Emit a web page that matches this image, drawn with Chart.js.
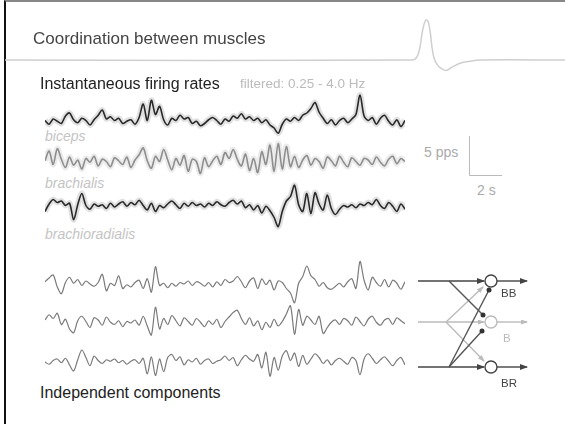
<!DOCTYPE html>
<html>
<head>
<meta charset="utf-8">
<script src="https://cdn.jsdelivr.net/npm/chart.js@4"></script>
<style>
  body { margin: 0; width: 565px; height: 424px; position: relative; overflow: hidden; background: #fff;
         font-family: "Liberation Sans", Arial, sans-serif; }
  .frame { position: absolute; left: 4px; top: 0; width: 600px; height: 440px;
           border-left: 2px solid #111; border-top: 2px solid #888; }
  canvas { position: absolute; }
  .t { position: absolute; white-space: nowrap; line-height: 1; }
  .lbl { font-style: italic; font-size: 14px; color: #c4c4c4; }
</style>
</head>
<body>
<div class="frame"></div>

<canvas id="spike" width="560" height="70" style="left:5px;top:10px"></canvas>

<div class="t" style="left:33px;top:30px;font-size:17px;color:#444">Coordination between muscles</div>
<div class="t" style="left:40px;top:76px;font-size:16px;color:#222">Instantaneous firing rates</div>
<div class="t" style="left:240px;top:77px;font-size:13.5px;color:#bbb">filtered: 0.25 - 4.0 Hz</div>
<div class="t lbl" style="left:45px;top:129px">biceps</div>
<div class="t lbl" style="left:45px;top:176px">brachialis</div>
<div class="t lbl" style="left:45px;top:227px">brachioradialis</div>
<div class="t" style="left:40px;top:385px;font-size:16px;color:#222">Independent components</div>

<div class="t" style="left:424px;top:145px;font-size:14px;color:#aaa">5 pps</div>
<div class="t" style="left:477px;top:183px;font-size:14px;color:#aaa">2 s</div>

<canvas id="bic" width="370" height="60" style="left:40px;top:92px"></canvas>
<canvas id="bra" width="370" height="60" style="left:40px;top:133px"></canvas>
<canvas id="brd" width="370" height="60" style="left:40px;top:177px"></canvas>
<canvas id="ic1" width="370" height="60" style="left:40px;top:254px"></canvas>
<canvas id="ic2" width="370" height="60" style="left:40px;top:293px"></canvas>
<canvas id="ic3" width="370" height="60" style="left:40px;top:332px"></canvas>

<svg width="565" height="424" style="position:absolute;left:0;top:0">
  <defs>
    <marker id="ad" markerWidth="8" markerHeight="6" refX="7" refY="3" orient="auto" markerUnits="userSpaceOnUse">
      <path d="M0,0 L8,3 L0,6 z" fill="#444"/></marker>
    <marker id="al" markerWidth="7" markerHeight="5" refX="6" refY="2.5" orient="auto" markerUnits="userSpaceOnUse">
      <path d="M0,0 L7,2.5 L0,5 z" fill="#bbb"/></marker>
  </defs>
  <!-- scale bar -->
  <path d="M469.5,136 L469.5,175.5 L502,175.5" fill="none" stroke="#bbb" stroke-width="1"/>
  <!-- network -->
  <g fill="none" stroke-width="1.4">
    <path d="M418,322 L484,322" stroke="#bbb" marker-end="url(#al)"/>
    <path d="M497,322 L527,322" stroke="#bbb" marker-end="url(#al)"/>
    <path d="M446,322 L483,287" stroke="#bbb" marker-end="url(#al)"/>
    <path d="M446,322 L484,361" stroke="#bbb" marker-end="url(#al)"/>
    <circle cx="491" cy="322" r="6" stroke="#bbb" fill="#fff"/>
    <path d="M418,281 L484,281" stroke="#444" marker-end="url(#ad)"/>
    <path d="M497,281 L527,281" stroke="#444" marker-end="url(#ad)"/>
    <path d="M418,367 L484,367" stroke="#444" marker-end="url(#ad)"/>
    <path d="M497,367 L527,367" stroke="#444" marker-end="url(#ad)"/>
    <path d="M449,281 L483,315" stroke="#555"/>
    <path d="M449,367 L489,290" stroke="#555"/>
    <path d="M449,367 L482,331" stroke="#555"/>
    <circle cx="491" cy="281" r="6" stroke="#444" fill="#fff"/>
    <circle cx="491" cy="367" r="6" stroke="#444" fill="#fff"/>
  </g>
  <g fill="#333">
    <circle cx="483" cy="315" r="2.5"/>
    <circle cx="489" cy="290" r="2.5"/>
    <circle cx="482" cy="331" r="2.5"/>
  </g>
</svg>
<div class="t" style="left:501px;top:288px;font-size:11.5px;color:#444">BB</div>
<div class="t" style="left:503px;top:333px;font-size:11.5px;color:#bbb">B</div>
<div class="t" style="left:501px;top:378px;font-size:11.5px;color:#444">BR</div>

<script>
// sample step of all traces, seconds (22 s shown)
var dt = 0.25;

// filtered instantaneous firing rates, pps around the mean
var biceps = [0.2,-0.3,0.4,0.1,-0.2,0.8,1.2,0.3,-0.1,0.5,
  0.2,-0.4,0.3,0.9,1.6,0.4,0.7,0.2,0.5,-0.2,
  0.1,0.3,-0.3,0.6,2.4,0.2,2.9,1.0,2.1,0.3,
  -0.4,0.5,0.2,0.9,0.4,0.6,-0.2,0.1,-0.5,-0.2,
  0.3,0.6,0.2,-0.3,0.4,0.1,0.8,0.5,1.1,0.4,
  0.7,0.2,0.5,-0.1,0.3,-0.4,-0.8,-1.5,-0.3,0.4,
  0.1,0.6,0.2,0.9,1.2,1.8,2.6,1.3,0.5,-0.2,
  0.3,-0.4,0.2,0.5,-0.1,0.4,1.0,3.6,0.8,0.2,
  0.6,-0.3,0.5,0.9,0.1,-0.4,0.3,-0.6,0.2];
var brachialis = [0.3,1.6,-0.2,1.9,0.5,-0.6,0.8,-0.3,0.4,-0.8,
  0.6,0.1,0.9,-0.4,0.5,0.2,-0.5,0.7,0.3,-0.2,
  0.8,-0.6,0.4,1.1,2.0,0.3,-0.7,0.9,0.2,1.8,
  0.4,-0.9,0.6,-0.3,1.0,-1.1,0.5,0.2,-1.4,0.7,
  -0.5,0.3,0.9,-0.2,1.4,0.6,1.8,0.5,-0.4,1.2,
  -1.0,0.6,-1.3,1.5,-0.2,2.4,-1.1,2.6,-0.8,2.2,
  -0.5,0.9,-0.6,0.4,1.0,-0.3,0.6,0.2,-0.7,0.8,
  0.3,-0.4,0.9,0.1,-0.5,0.7,0.2,-0.3,0.6,0.4,
  -0.2,0.8,0.1,-0.4,0.5,0.9,-0.1,0.6,0.2];
var brachioradialis = [-0.6,0.4,1.0,0.6,0.8,0.2,0.5,-1.7,0.3,1.8,
  0.2,-0.3,0.4,0.1,0.3,-0.2,0.5,0.0,0.4,0.7,
  0.1,0.6,0.3,0.9,0.2,-0.4,0.5,-0.6,0.2,-0.1,
  0.4,0.8,0.3,-0.2,0.5,0.1,0.6,0.2,0.4,0.0,
  0.5,0.2,0.7,0.3,0.1,0.6,0.9,0.4,0.8,-0.1,
  0.3,-0.4,0.2,-0.8,0.1,-0.5,-1.4,-2.6,-0.6,0.8,
  1.4,2.9,0.3,-0.6,1.8,-0.9,1.9,0.4,-0.4,1.6,
  -0.2,-1.0,-0.3,0.2,0.0,0.3,-0.1,0.4,0.2,0.6,
  0.3,1.0,0.2,-0.2,0.6,0.1,-0.6,0.4,-0.3];

// independent components (same units)
var comp1 = [0.3,0.8,1.2,-0.4,-1.3,0.2,0.9,0.1,0.6,-0.2,
  0.4,0.0,-0.3,0.2,1.3,-0.9,0.1,-0.2,1.1,-0.6,
  -0.1,-0.4,0.2,0.5,-0.6,0.7,-1.1,2.3,-0.2,0.1,
  -0.5,0.1,-0.3,0.2,0.0,0.4,-0.2,0.3,0.1,-0.3,
  0.2,-0.4,0.3,-0.2,0.6,0.2,0.4,1.0,0.3,-0.5,
  0.4,0.8,-0.6,0.7,-0.1,0.5,-0.8,0.4,0.2,-0.6,
  -1.2,-2.5,0.1,1.0,2.4,1.1,0.6,-0.3,0.2,-0.5,
  -0.7,-0.3,0.1,-0.4,0.3,0.7,-0.6,3.0,0.5,-0.8,
  0.9,0.2,-0.3,0.6,-0.4,0.5,0.1,-0.7,0.3];
var comp2 = [0.4,1.1,0.6,1.3,-0.2,0.5,-0.8,-1.3,0.3,0.9,
  0.2,-0.6,0.7,0.4,-0.3,0.8,0.1,-0.2,0.3,-0.5,
  0.2,0.0,0.4,-0.3,0.9,-0.4,-1.6,2.1,-0.8,0.6,
  -0.2,1.0,0.3,-0.4,0.7,0.2,-0.3,0.6,0.1,-0.5,
  0.3,-0.2,0.5,-0.6,0.2,0.8,1.4,1.7,0.6,-0.2,
  0.7,-0.4,0.3,-0.9,0.1,-0.6,0.5,-0.4,0.2,1.2,
  2.3,-1.5,1.8,-0.3,0.9,0.4,-0.2,0.9,-1.4,-0.6,
  0.1,0.4,-0.2,0.6,0.3,-0.3,0.8,0.2,-0.4,0.5,
  0.9,0.1,-0.3,0.4,0.6,-0.2,0.7,0.3,-0.1];
var comp3 = [0.0,-0.3,0.2,0.4,-0.1,0.5,-0.4,-1.2,0.3,1.6,
  0.6,-0.5,0.8,0.2,-0.2,0.3,0.1,0.4,-0.1,0.2,
  -0.3,0.1,0.3,-0.2,0.5,-1.6,0.7,-1.8,0.4,-1.3,
  0.6,1.0,0.2,0.7,-0.4,0.3,0.0,0.5,-0.3,0.2,
  0.4,-0.2,0.1,0.3,0.8,0.2,0.6,-0.5,0.3,0.9,
  0.4,0.1,1.0,-0.8,1.3,-1.9,0.6,-1.1,0.8,1.5,
  0.2,1.2,-0.6,0.9,-0.3,0.4,1.1,0.6,-0.2,0.3,
  -0.4,0.2,0.5,0.1,-0.3,0.6,0.2,-1.7,0.4,1.1,
  0.5,-0.2,0.3,0.7,0.1,-0.5,0.2,0.6,-0.4];

// action potential in the header, ms / normalized amplitude
var spikeT = [0,40.7,41.2,41.5,41.7,41.9,42.1,42.3,42.5,42.7,42.9,43.2,43.6,44.1,44.7,45.5,46.5,47.5,56];
var spikeV = [0,0,0.08,0.32,0.66,0.89,1.0,0.97,0.74,0.32,0.05,-0.11,-0.21,-0.26,-0.18,-0.08,-0.03,0,0];

function pts(vals) {
  return vals.map(function (v, i) { return {x: i * dt, y: v}; });
}

function trace(id, vals, color, halo) {
  var sets = [];
  if (halo) {
    sets.push({data: pts(vals), borderColor: halo, borderWidth: 6, tension: 0.3});
  }
  sets.push({data: pts(vals), borderColor: color, borderWidth: halo ? 1.6 : 1.2, tension: 0.3});
  return new Chart(document.getElementById(id), {
    type: 'line',
    data: {datasets: sets},
    options: {
      responsive: false,
      animation: false,
      layout: {padding: {left: 5, right: 5}},
      elements: {point: {radius: 0}},
      plugins: {legend: {display: false}, tooltip: {enabled: false}},
      scales: {
        x: {type: 'linear', min: 0, max: 22, display: false},
        y: {min: -4, max: 4, display: false}
      }
    }
  });
}

trace('bic', biceps, '#2e2e2e', 'rgba(0,0,0,0.12)');
trace('bra', brachialis, '#9a9a9a', 'rgba(0,0,0,0.08)');
trace('brd', brachioradialis, '#2e2e2e', 'rgba(0,0,0,0.12)');
trace('ic1', comp1, '#7a7a7a');
trace('ic2', comp2, '#7a7a7a');
trace('ic3', comp3, '#7a7a7a');

new Chart(document.getElementById('spike'), {
  type: 'line',
  data: {datasets: [{
    data: spikeT.map(function (t, i) { return {x: t, y: spikeV[i]}; }),
    borderColor: '#cfcfcf', borderWidth: 1.5, tension: 0.35
  }]},
  options: {
    responsive: false,
    animation: false,
    elements: {point: {radius: 0}},
    plugins: {legend: {display: false}, tooltip: {enabled: false}},
    scales: {
      x: {type: 'linear', min: 0, max: 56, display: false},
      y: {min: -0.5, max: 1.25, display: false}
    }
  }
});
</script>
</body>
</html>
